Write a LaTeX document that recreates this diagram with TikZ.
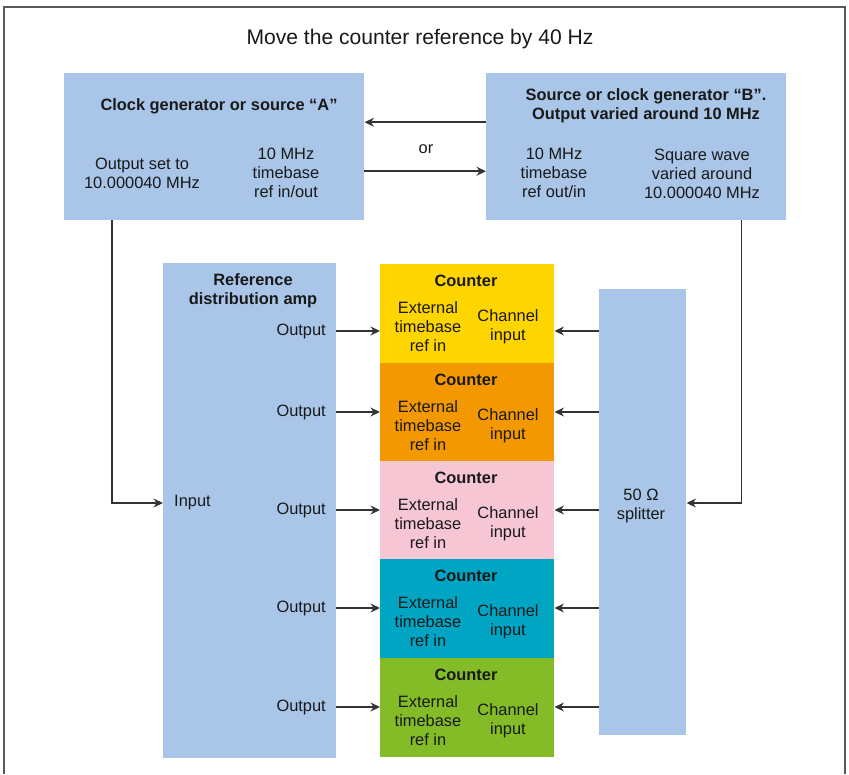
\documentclass[tikz,border=0pt]{standalone}
\usepackage{fontspec}
\usetikzlibrary{arrows.meta}
\setmainfont{Liberation Sans}
\definecolor{boxblue}{HTML}{A9C6E8}
\definecolor{cyel}{HTML}{FFD500}
\definecolor{corg}{HTML}{F39800}
\definecolor{cpnk}{HTML}{F7C6D5}
\definecolor{ctea}{HTML}{00A5C3}
\definecolor{cgrn}{HTML}{84BC27}
\definecolor{wire}{HTML}{333333}
\begin{document}
\begin{tikzpicture}[>={Stealth[length=8pt, width=7.5pt, inset=2.5pt]}, x=0.03cm, y=-0.03cm,
    every node/.style={inner sep=0pt, align=center, text=black!90,
      font=\fontsize{14pt}{16.2pt}\selectfont},
    bluebox/.style={fill=boxblue, anchor=north west},
    cntbox/.style={anchor=north west, minimum width=5.22cm, minimum height=2.955cm},
    bold/.style={font=\fontsize{14pt}{16.2pt}\selectfont\bfseries},
    wire/.style={draw=wire, line width=1.4pt},
    frame/.style={draw=black!65, line width=1.2pt}]

    \useasboundingbox (0,0) rectangle (849,774);
    \draw[frame] (4,774) -- (4,7) -- (845,7) -- (845,774);

    \node (title) at (420,39) {\fontsize{18pt}{21pt}\selectfont Move the counter reference by 40 Hz};

    % the two sources
    \node[bluebox, minimum width=9cm, minimum height=4.41cm] (srcA) at (64,73) {};
    \node[bluebox, minimum width=9cm, minimum height=4.41cm] (srcB) at (486,73) {};

    \node[bold] (titA) at (219,106) {Clock generator or source “A”};
    \node (outA) at (142,173) {Output set to\\10.000040 MHz};
    \node (refA) at (286,173) {10 MHz\\timebase\\ref in/out};

    \node[bold] (titB) at (646,106) {Source or clock generator “B”.\\Output varied around 10 MHz};
    \node (refB) at (554,173) {10 MHz\\timebase\\ref out/in};
    \node (sqB) at (702,174) {Square wave\\varied around\\10.000040 MHz};

    \draw[wire, ->] ([yshift=.735cm]srcB.west) -- ([yshift=.735cm]srcA.east);
    \draw[wire, ->] ([yshift=-.735cm]srcA.east) -- ([yshift=-.735cm]srcB.west);
    \node (or) at (426,149) {or};

    % distribution amp and splitter
    \node[bluebox, minimum width=5.19cm, minimum height=14.85cm] (amp) at (163,263) {};
    \node[bold] (ampt) at (253,291) {Reference\\distribution amp};
    \node[anchor=west] (inp) at (174,503) {Input};

    \node[bluebox, minimum width=2.61cm, minimum height=13.38cm] (split) at (599,289) {};
    \node (splt) at (641,506) {50 Ω\\splitter};

    \draw[wire, ->] ([xshift=1.44cm]srcA.south west) |- (amp.west |- inp);
    \draw[wire, ->] ([xshift=-1.35cm]srcB.south east) |- (split.east |- inp);

    % the five counters
    \foreach \t/\a/\c [count=\i] in {264/331/cyel, 363/412/corg, 461/510/cpnk, 559/608/ctea, 658/707/cgrn}
    {
      \node[cntbox, fill=\c] (cnt\i) at (380,\t) {};
      \node[bold] (ctit\i) at (466,\t+17) {Counter};
      \node (ext\i) at (428,\t+63) {External\\timebase\\ref in};
      \node (chan\i) at (508,\t+63) {Channel\\input};
      \node[anchor=east] (out\i) at (326,\a) {Output};
      \draw[wire, ->] (amp.east |- out\i) -- (cnt\i.west |- out\i);
      \draw[wire, ->] (split.west |- out\i) -- (cnt\i.east |- out\i);
    }

\end{tikzpicture}
\end{document}
